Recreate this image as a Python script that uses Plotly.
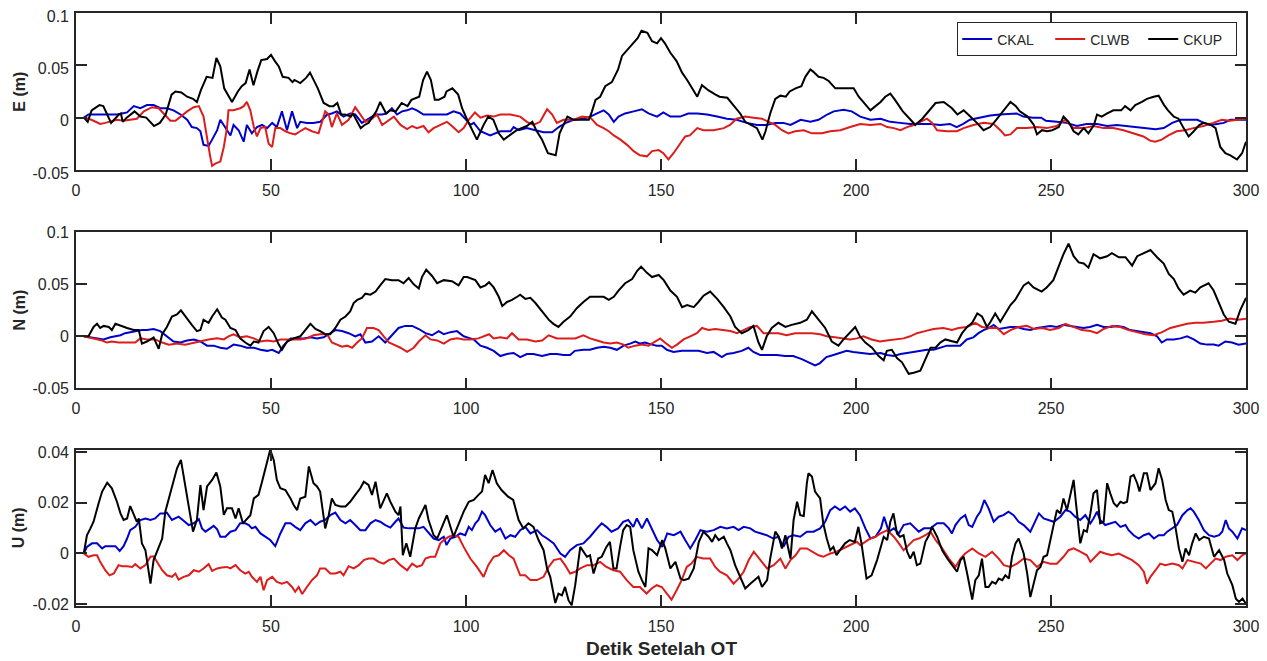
import plotly.graph_objects as go
from plotly.subplots import make_subplots

# ---------------- data (time in s, displacement in m) ----------------
E_CKAL = [(2,0),(3.2,0.003),(5.4,0.003),(8.8,0.003),(10.5,0.003),(11.8,0.004),(13.1,0.005),(14.8,0.011),(16.5,0.009),(18.2,0.012),(19.9,0.012),(21.6,0.009),(23.3,0.009),(25,0.007),(26.8,0.003),(28.5,-0.002),(29.7,-0.009),(31,-0.010),(31.9,-0.013),(32.7,-0.026),(34,-0.027),(34.9,-0.021),(36.2,-0.012),(37,-0.002),(38.3,-0.009),(39.6,-0.017),(40.4,-0.007),(41.7,-0.012),(43,-0.023),(43.8,-0.007),(45.1,-0.015),(46.4,-0.009),(47.7,-0.007),(49,-0.010),(50.3,-0.005),(51.5,-0.009),(52.8,0.006),(54.1,-0.012),(55.4,0.006),(56.7,-0.010),(57.5,-0.004),(59.2,-0.005),(60.9,-0.005),(62.6,-0.004),(64.4,0.003),(65.6,0.004),(66.9,0.006),(68.6,0.001),(70.3,0.004),(71.6,0.003),(73.3,-0.005),(75,-0.001),(76.8,0.003),(78.5,0.003),(79.7,0.004),(81,0.009),(82.3,0.003),(83.6,0.006),(84.9,0.007),(86.2,0.009),(87.4,0.007),(89.1,0.003),(90.9,0.003),(92.6,0.003),(95.1,0.003),(96.8,0.006),(98.5,0.004),(99.8,-0.001),(101.1,-0.007),(102,-0.005),(103.7,-0.013),(106.2,-0.017),(108.8,-0.013),(111.4,-0.013),(112.2,-0.009),(113.5,-0.012),(115.6,-0.010),(117.8,-0.012),(119.9,-0.014),(122.1,-0.014),(123.8,-0.009),(125.6,-0.005),(127.6,-0.002),(129.8,-0.001),(131.9,0.001),(133.6,0.004),(135.3,0.007),(136.6,0.003),(137.9,-0.004),(139.1,0.001),(140.8,0.004),(143,0.006),(145.1,0.008),(146.8,0.004),(149,0.001),(150.6,0.005),(152.4,0.001),(154.9,0.001),(157,0.004),(159.3,0.004),(161.8,0.003),(164.4,0.001),(166.9,-0.001),(169.4,-0.002),(172,-0.005),(174.6,-0.007),(177.1,-0.007),(179.3,-0.005),(181.4,-0.005),(183.2,-0.007),(185.8,-0.002),(188.3,-0.004),(190.4,-0.002),(192.6,0.003),(194.3,0.006),(196.8,0.0075),(198.9,0.006),(201.1,0.001),(203.7,-0.002),(206.3,-0.001),(208.8,-0.004),(211.3,-0.005),(213.9,-0.006),(216.5,-0.006),(219,-0.006),(221.6,-0.007),(224.1,-0.006),(225.8,-0.009),(227.5,-0.006),(229.2,-0.002),(231.7,0),(234.4,0.002),(236.9,0.003),(239.6,0.004),(241.2,0.004),(242.9,0.001),(245.4,0),(247.5,0),(248.7,-0.003),(251.5,-0.004),(254,-0.005),(256.6,-0.008),(259.1,-0.006),(261.8,-0.006),(264.4,-0.008),(266.9,-0.007),(269.5,-0.008),(272.1,-0.009),(274.6,-0.010),(276.8,-0.011),(278.9,-0.010),(281.1,-0.005),(283.2,-0.002),(285.3,-0.002),(287.5,-0.002),(289.2,-0.005),(290.9,-0.007),(292.6,-0.006),(294.3,-0.005),(296,-0.002),(297.7,-0.002),(300,-0.002)]

E_CLWB = [(2,0),(3.2,-0.001),(4.5,-0.003),(6.2,-0.006),(7.5,-0.005),(8.8,-0.004),(10.5,-0.002),(12.2,-0.003),(13.9,-0.002),(15.6,-0.001),(17.4,0.006),(19.5,0.010),(21.2,0.009),(22.5,0.004),(24.2,-0.003),(25.5,-0.003),(26.8,0.001),(28.5,0.006),(30.2,0.010),(31.5,0.011),(32.7,0.001),(33.6,-0.021),(34.4,-0.037),(34.9,-0.046),(35.7,-0.044),(37,-0.042),(37.9,-0.028),(38.7,-0.010),(39.1,0.007),(40.4,0.007),(42.1,0.009),(43,0.011),(43.8,0.015),(44.7,0.007),(45.6,-0.009),(46.4,-0.018),(47.3,-0.010),(48.5,-0.009),(49.4,-0.025),(50.3,-0.028),(51.1,-0.010),(52.4,-0.010),(53.7,-0.013),(55,-0.015),(56.2,-0.016),(57.5,-0.013),(58.8,-0.010),(60.5,-0.013),(62.2,-0.015),(63.9,0.006),(64.8,0.003),(65.6,-0.009),(66.9,0.004),(68.2,-0.007),(69.9,-0.002),(71.6,0.010),(72.9,0.003),(74.2,-0.004),(75.9,-0.001),(77.2,0.003),(78.5,-0.007),(80.2,-0.002),(81.5,0.001),(83.2,-0.007),(84.9,-0.011),(86.2,-0.008),(87.4,-0.010),(89.1,-0.008),(90.4,-0.014),(91.7,-0.010),(93.4,-0.007),(95.1,-0.004),(96.4,-0.008),(98.1,-0.014),(99.4,-0.010),(100.7,-0.002),(102.3,0.005),(103.7,0),(105.4,0.002),(107.1,0.001),(108.8,0.003),(111.4,0.003),(113.9,0.001),(115.6,-0.004),(117.3,-0.007),(119,-0.004),(120.8,0.008),(122.1,0.003),(123.3,-0.005),(125,-0.002),(127.6,-0.002),(129.8,0.001),(131.9,0),(133.6,-0.007),(135.3,-0.010),(136.6,-0.013),(137.9,-0.017),(139.6,-0.021),(141.3,-0.026),(143,-0.032),(144.6,-0.036),(146.4,-0.037),(147.7,-0.032),(149.4,-0.031),(150.6,-0.034),(151.9,-0.040),(153.2,-0.034),(154.9,-0.025),(156.2,-0.018),(157.4,-0.017),(159.3,-0.010),(160.9,-0.012),(163.5,-0.012),(166.1,-0.010),(167.7,-0.007),(169.4,-0.001),(171.6,0.001),(173.7,0),(175.9,-0.001),(177.6,-0.004),(179.3,-0.007),(181,-0.012),(182.7,-0.015),(184.4,-0.013),(186.6,-0.012),(188.7,-0.015),(191.3,-0.015),(193.4,-0.013),(196,-0.012),(198.5,-0.009),(201.1,-0.006),(203.7,-0.007),(206.3,-0.006),(208,-0.009),(209.7,-0.010),(211.4,-0.012),(213.1,-0.009),(214.8,-0.007),(216.5,-0.004),(218.2,-0.001),(219.5,-0.005),(220.8,-0.012),(223.3,-0.013),(225.9,-0.013),(227.6,-0.010),(230.1,-0.007),(232.7,-0.005),(235.3,-0.006),(237,-0.012),(238.2,-0.017),(239.6,-0.016),(241.3,-0.010),(243.8,-0.010),(246.4,-0.009),(248.9,-0.010),(251.5,-0.008),(253.6,-0.002),(255.8,-0.010),(258.3,-0.010),(260.9,-0.008),(263.5,-0.010),(266,-0.010),(268.6,-0.012),(271.2,-0.015),(273.7,-0.018),(275.4,-0.022),(276.7,-0.023),(278.4,-0.021),(280.1,-0.017),(282.2,-0.013),(284.4,-0.012),(286.5,-0.010),(289.1,-0.008),(291.6,-0.005),(293.8,-0.002),(295.9,-0.003),(298,-0.002),(300,-0.001)]

E_CKUP = [(2,0),(3,-0.004),(4,0.007),(6,0.012),(7,0.011),(9,-0.005),(11,0.003),(11.5,0.004),(12,-0.004),(13,0),(15,0.006),(16.5,0.001),(18,0),(20,-0.008),(21.5,-0.005),(23,0.003),(24.5,0.022),(25.5,0.025),(27,0.024),(28.5,0.020),(30,0.018),(31,0.015),(32,0.026),(33.5,0.039),(35,0.038),(36,0.057),(37,0.049),(38,0.028),(40,0.015),(41,0.022),(41.5,0.025),(42.5,0.030),(43.5,0.033),(44.5,0.046),(45.5,0.031),(46.5,0.044),(47.5,0.055),(49,0.056),(50,0.060),(51,0.054),(52,0.049),(53,0.039),(54.5,0.038),(55.5,0.034),(56,0.036),(57.5,0.033),(59,0.038),(60,0.043),(62,0.028),(63.5,0.014),(65,0.011),(66,0.011),(67,0.014),(68,0.003),(69,0.003),(70.5,0.001),(71,0.004),(73,-0.010),(74,-0.007),(75,-0.005),(77,0.006),(78,0.015),(79.5,0.004),(80.5,0.007),(82,0.006),(83.5,0.014),(85,0.011),(86,0.017),(88,0.020),(89,0.036),(90,0.044),(91,0.036),(92,0.017),(93,0.017),(94.5,0.020),(95,0.025),(96.5,0.028),(98,0.022),(99,0.009),(100.3,-0.002),(102.8,-0.021),(104.5,-0.007),(105.7,0.001),(107,-0.002),(108.4,-0.015),(109.7,-0.021),(111.4,-0.016),(113,-0.012),(115.6,-0.008),(117,-0.004),(118,-0.012),(119.5,-0.021),(121,-0.034),(123,-0.036),(124,-0.015),(126,0.001),(127.5,-0.002),(129,-0.002),(131.5,-0.002),(132.3,0.006),(133.2,0.017),(134.4,0.020),(135.7,0.030),(137.4,0.034),(139,0.046),(140,0.059),(141.3,0.065),(142.6,0.070),(144,0.076),(145,0.083),(146.5,0.081),(147.7,0.073),(149,0.071),(150,0.076),(151,0.071),(152.4,0.062),(154,0.054),(155.4,0.043),(156.7,0.036),(158,0.028),(159.3,0.020),(160.5,0.031),(162.2,0.026),(164,0.022),(165,0.020),(167,0.019),(168.6,0.012),(170.3,0.004),(171.6,-0.004),(173.3,-0.007),(174.6,-0.010),(176,-0.021),(176.8,-0.013),(178,0.004),(179.3,0.018),(180.6,0.021),(182,0.020),(183,0.025),(184.5,0.028),(186,0.030),(187,0.039),(188.3,0.046),(189,0.044),(190.4,0.039),(191.7,0.038),(193,0.035),(194.7,0.028),(196.4,0.028),(199.4,0.028),(200.7,0.020),(202.4,0.012),(203.7,0.007),(205,0.011),(206.3,0.015),(207.5,0.020),(208.8,0.023),(210,0.017),(212,0.006),(214,-0.002),(215.2,-0.007),(217,-0.001),(218.7,0.006),(220.4,0.014),(222.5,0.015),(224.6,0.009),(226,0.003),(227.6,0.007),(229.3,0.001),(231,-0.005),(232.7,-0.012),(234.4,-0.009),(236,-0.002),(238,0.007),(239.6,0.015),(241,0.011),(242,0.006),(244,0.001),(245.6,-0.007),(246.4,-0.016),(247.7,-0.012),(249,-0.013),(250.3,-0.012),(252,-0.009),(253.2,0.001),(254.5,-0.004),(255.8,-0.013),(257,-0.016),(258.4,-0.010),(259.6,-0.015),(261,-0.007),(261.8,0.003),(263,0.001),(264.4,0.004),(266,0.007),(268,0.007),(269,0.011),(270.4,0.007),(271.6,0.012),(273.3,0.015),(274.6,0.018),(276.3,0.020),(277.6,0.021),(279,0.012),(280,0.007),(281.5,0.001),(282.7,-0.001),(284,-0.010),(285.3,-0.018),(286.6,-0.013),(288,-0.007),(289.2,-0.005),(291,-0.007),(292.2,-0.010),(293.4,-0.028),(294.7,-0.034),(296,-0.036),(297.7,-0.040),(299,-0.034),(300,-0.023)]

N_CKAL = [(2,0),(3.7,-0.001),(5.4,-0.002),(7.1,-0.003),(8.8,-0.001),(10.1,0),(11.4,0.001),(12.6,0.003),(13.9,0.004),(15.2,0.005),(16.9,0.006),(18.2,0.006),(19.9,0.007),(21.6,0.005),(23.3,0),(25,-0.005),(26.8,-0.006),(28.5,-0.004),(30.2,-0.003),(31.9,-0.005),(33.6,-0.009),(35.3,-0.009),(37,-0.011),(38.7,-0.012),(40.4,-0.008),(42.1,-0.009),(43.8,-0.011),(45.6,-0.011),(47.3,-0.013),(49,-0.014),(50.3,-0.013),(52,-0.016),(53.2,-0.009),(55,-0.002),(56.7,-0.002),(58.4,-0.002),(60.1,-0.001),(61.8,-0.002),(63.5,-0.001),(65.2,0.003),(66.5,0.006),(68.2,0.005),(69.9,0.003),(71.6,0),(72.9,0.002),(74.2,-0.006),(75.9,-0.005),(77.6,0),(79.3,-0.006),(81,0.001),(82.7,0.008),(84.4,0.010),(86.2,0.010),(87.9,0.007),(89.6,0.003),(91.3,0.001),(93,0.005),(94.3,0.002),(96,0.004),(97.7,0.005),(99.4,0),(101.1,-0.002),(102,-0.003),(103.7,-0.009),(105.4,-0.011),(107.1,-0.014),(108.8,-0.019),(110.5,-0.017),(112.2,-0.016),(113.9,-0.020),(115.6,-0.017),(117.3,-0.017),(119.5,-0.019),(121.6,-0.017),(123.3,-0.017),(125,-0.018),(126.7,-0.018),(127.9,-0.014),(130.1,-0.013),(131.8,-0.013),(133.6,-0.011),(135.3,-0.010),(137,-0.011),(138.7,-0.013),(140.4,-0.009),(142.1,-0.007),(143.4,-0.005),(144.7,-0.007),(145.9,-0.006),(147.7,-0.008),(148.9,-0.009),(150.2,-0.009),(151.5,-0.013),(153.2,-0.015),(155.4,-0.014),(157.5,-0.014),(159.6,-0.014),(161.8,-0.016),(163.5,-0.015),(165.6,-0.020),(166.9,-0.017),(168.6,-0.016),(170.7,-0.014),(172.4,-0.011),(173.7,-0.015),(175.4,-0.018),(177.6,-0.018),(179.7,-0.018),(181.8,-0.019),(183.9,-0.019),(186.1,-0.022),(187.8,-0.025),(189.5,-0.028),(190.7,-0.026),(192.4,-0.020),(194.2,-0.018),(195.9,-0.016),(197.6,-0.014),(199.3,-0.015),(201,-0.016),(203.6,-0.017),(206.3,-0.016),(208,-0.018),(209.7,-0.019),(211.4,-0.017),(213.1,-0.016),(214.8,-0.015),(216.5,-0.014),(218.2,-0.013),(219.9,-0.013),(221.6,-0.011),(223.3,-0.009),(225,-0.009),(226.7,-0.009),(228.4,-0.003),(230.1,-0.001),(231.4,0.003),(232.7,0.006),(234,0.008),(235.3,0.011),(236.6,0.007),(237.8,0.008),(239.6,0.009),(241.3,0.009),(243,0.007),(244.7,0.006),(246.4,0.008),(248.1,0.009),(249.8,0.010),(251.5,0.009),(253.2,0.011),(254.9,0.010),(256.6,0.009),(258.3,0.008),(260,0.009),(261.8,0.011),(263.5,0.009),(265.2,0.009),(266.9,0.010),(268.6,0.009),(270.3,0.006),(272,0.005),(273.8,0.004),(275.5,0.003),(277.2,0),(278.4,-0.006),(279.7,-0.003),(281.5,-0.003),(283.2,-0.002),(284.9,0),(286.6,-0.003),(288.3,-0.007),(290,-0.008),(291.7,-0.008),(293,-0.009),(294.7,-0.005),(296.4,-0.006),(298.1,-0.008),(300,-0.007)]

N_CLWB = [(2,0),(4.5,-0.002),(6.7,-0.004),(7.9,-0.006),(9.2,-0.005),(10.9,-0.006),(13.1,-0.006),(15.2,-0.006),(16.5,-0.002),(18.2,-0.003),(20.3,-0.003),(22.1,-0.006),(23.8,-0.008),(25.9,-0.007),(28,-0.008),(30.2,-0.006),(31.9,-0.005),(34,-0.003),(36.2,-0.002),(37.9,-0.003),(39.1,0),(40.4,0.002),(42.1,-0.001),(43.8,0),(45.6,-0.002),(47.3,-0.005),(49,-0.004),(50.7,-0.005),(52.4,-0.003),(54.1,-0.003),(55.8,-0.003),(57.5,-0.003),(59.2,-0.002),(60.9,0.001),(62.6,0.002),(64.4,0.002),(65.6,-0.006),(66.9,-0.008),(68.2,-0.010),(69.5,-0.009),(70.8,-0.011),(72.1,-0.006),(73.3,-0.002),(74.6,0.008),(76.3,0.008),(77.6,0.006),(78.9,0),(80.2,-0.006),(81.5,-0.008),(83.2,-0.011),(84.9,-0.015),(86.6,-0.011),(87.9,-0.005),(89.6,0.001),(90.9,-0.003),(92.6,-0.004),(94.3,-0.007),(96,-0.003),(97.7,-0.002),(99.4,-0.003),(101.1,-0.003),(103.2,-0.002),(105.9,0.002),(107.1,-0.002),(108.8,-0.001),(110.5,-0.002),(111.8,0.003),(113.5,-0.003),(115.6,-0.003),(117.8,-0.005),(119.5,-0.004),(121.2,0.001),(123.3,-0.002),(125.9,-0.002),(128,-0.002),(130.1,0.001),(131.8,-0.002),(133.6,-0.004),(135.3,-0.006),(137,-0.007),(138.7,-0.006),(140.4,-0.008),(141.6,-0.011),(143.4,-0.009),(145.1,-0.008),(146.8,-0.009),(148.5,-0.005),(149.8,-0.002),(151,-0.006),(152.8,-0.011),(154.1,-0.008),(155.8,-0.003),(157.5,0),(159.2,0.003),(160.5,0.008),(162.2,0.006),(163.9,0.007),(166.1,0.006),(167.8,0.005),(169.5,0.003),(171.2,0.006),(172.9,0.009),(174.6,0.010),(176.3,0.003),(178,0.003),(180.1,0.003),(182.2,0.001),(184.4,0.003),(186.5,0.003),(188.7,0.003),(190.8,0.002),(192.5,0),(194.6,-0.001),(196.8,-0.002),(198.5,-0.003),(200.2,-0.002),(201.9,0),(204,-0.003),(206.2,-0.005),(207.9,-0.004),(210.5,-0.003),(212.2,-0.002),(213.9,0),(215.6,0.003),(217.7,0.005),(219.9,0.007),(222.4,0.008),(224.6,0.006),(226.3,0.008),(228.4,0.009),(230.6,0.013),(232.3,0.009),(234.4,0.008),(236.2,0.008),(237.9,0.002),(239.6,0.006),(241.7,0.009),(243.8,0.010),(245.6,0.007),(247.7,0.008),(249.8,0.006),(252,0.008),(253.7,0.012),(255.8,0.009),(257.9,0.006),(260.1,0.005),(261.8,0.003),(263.5,0.007),(265.6,0.010),(267.8,0.009),(269.9,0.006),(272,0.004),(274.2,0.002),(276.3,0.001),(278.5,0.004),(280.6,0.008),(282.7,0.010),(284.9,0.012),(287,0.013),(289.1,0.013),(291.7,0.014),(293.8,0.015),(295.9,0.017),(298,0.016),(300,0.017)]

N_CKUP = [(2,0),(3.2,0),(4.5,0.009),(5.4,0.012),(6.2,0.008),(7.1,0.010),(8.4,0.009),(9.2,0.006),(10.1,0.012),(11.4,0.010),(13.1,0.008),(14.8,0.006),(16.1,0.006),(16.9,-0.007),(18.2,-0.005),(19.9,-0.001),(21.2,-0.012),(22.1,0.002),(23.3,0.009),(24.6,0.019),(25.9,0.021),(26.9,0.025),(28,0.019),(29.7,0.011),(31,0.005),(31.9,0.006),(32.7,0.016),(34,0.013),(34.9,0.019),(36.2,0.026),(37.4,0.018),(38.3,0.016),(39.6,0.008),(40.9,0.006),(42.1,-0.002),(43.4,-0.006),(44.7,-0.009),(45.6,-0.005),(46.8,-0.006),(48.1,0.005),(49.4,0.009),(50.7,0.003),(52,-0.008),(52.8,-0.013),(54.1,-0.005),(55.8,-0.002),(57.5,0),(59.2,0.008),(60.1,0.012),(61.4,0.007),(62.6,0.005),(63.9,0.002),(65.2,0.002),(66.5,0.008),(67.8,0.016),(69.1,0.019),(70.3,0.024),(71.2,0.032),(72.1,0.035),(73.3,0.037),(74.2,0.041),(75.5,0.040),(76.8,0.043),(78,0.049),(79.3,0.055),(81,0.054),(82.7,0.054),(84,0.051),(85.3,0.056),(86.6,0.050),(87.9,0.046),(88.7,0.057),(89.8,0.064),(91.3,0.058),(92.6,0.051),(94.3,0.054),(96.4,0.053),(98.1,0.049),(99.4,0.057),(100.3,0.057),(102.4,0.054),(103.7,0.047),(105,0.049),(105.9,0.052),(107.1,0.047),(108.4,0.038),(109.3,0.029),(110.5,0.033),(111.8,0.035),(113.1,0.038),(113.9,0.040),(115.2,0.036),(116.5,0.037),(117.8,0.032),(119.5,0.024),(121.2,0.016),(122.4,0.012),(123.7,0.009),(125,0.014),(126.7,0.019),(128.4,0.027),(130.1,0.033),(131.8,0.038),(133.6,0.038),(135.3,0.038),(136.6,0.035),(137.9,0.038),(139.1,0.044),(140.8,0.051),(142.6,0.055),(143.9,0.063),(144.9,0.067),(146.4,0.061),(147.7,0.057),(149.4,0.059),(150.7,0.054),(152.4,0.044),(154.1,0.038),(155.4,0.028),(156.7,0.030),(158.4,0.028),(159.6,0.033),(160.9,0.039),(162.6,0.043),(164.4,0.036),(166.1,0.028),(167.8,0.019),(169,0.009),(170.7,0.003),(172.4,0.006),(173.7,0.010),(175,-0.006),(175.9,-0.013),(177.1,0),(178.4,0.008),(180.1,0.013),(181.9,0.009),(183.5,0.011),(185.7,0.013),(187.4,0.016),(188.7,0.024),(190.4,0.016),(192.1,0.008),(193.8,-0.005),(195.5,-0.009),(196.8,-0.003),(198.1,0.002),(199.8,0.009),(201,0),(202.4,-0.006),(204.1,-0.011),(205.8,-0.019),(207.1,-0.023),(207.9,-0.014),(209.2,-0.013),(210.5,-0.021),(211.8,-0.025),(213.5,-0.036),(214.8,-0.035),(216.5,-0.033),(217.8,-0.022),(219.1,-0.011),(220.4,-0.011),(221.6,-0.006),(222.9,-0.003),(224.2,-0.004),(225.9,-0.006),(227.2,0.003),(228.5,0.009),(229.8,0.013),(231.1,0.022),(232.3,0.019),(233.6,0.009),(234.5,0.014),(235.7,0.022),(237,0.014),(238.3,0.022),(239.6,0.030),(240.8,0.035),(242.1,0.043),(243,0.049),(244.2,0.052),(245.5,0.047),(247.6,0.043),(248.9,0.047),(250.6,0.054),(251.9,0.066),(253.2,0.079),(254.5,0.089),(255.8,0.077),(257.1,0.071),(258.4,0.070),(259.6,0.066),(260.9,0.079),(262.6,0.075),(264.4,0.077),(265.6,0.080),(267.4,0.076),(269.1,0.076),(270.8,0.068),(272.1,0.077),(273.8,0.080),(275.5,0.083),(277.2,0.076),(278.9,0.070),(280.2,0.060),(281.5,0.055),(282.7,0.046),(284,0.040),(285.7,0.044),(287,0.042),(288.3,0.047),(290.4,0.051),(291.7,0.044),(293,0.032),(294.3,0.021),(295.6,0.014),(297.3,0.012),(298.5,0.025),(300,0.037)]

U_CKAL = [(2,0),(2.8,0.0026),(4.1,0.004),(5.4,0.004),(6.7,0.002),(7.5,0.0029),(8.8,0.0029),(10.1,0.0029),(11.2,0.001),(12.2,0.0029),(13.1,0.0059),(13.9,0.0092),(15.2,0.0105),(16.5,0.0132),(17.8,0.0138),(19.1,0.0132),(20.3,0.0138),(21.6,0.0158),(22.5,0.0158),(23.3,0.0161),(24.6,0.0132),(25.5,0.0138),(26.3,0.0145),(27.6,0.0129),(28.9,0.0112),(30.2,0.0119),(31.5,0.0135),(32.3,0.0099),(33.2,0.0086),(34.4,0.0099),(35.3,0.0109),(36.2,0.0095),(37,0.0066),(38.3,0.0066),(39.6,0.0086),(40.9,0.0092),(42.1,0.0119),(43.4,0.0119),(44.3,0.0112),(45.1,0.0099),(46,0.0105),(47.3,0.0079),(48.5,0.0066),(49.8,0.0053),(51.1,0.0029),(52.4,0.0079),(53.7,0.0119),(55,0.0119),(56.2,0.0105),(57.5,0.0092),(58.8,0.0119),(60.1,0.0132),(61.4,0.0112),(62.6,0.0125),(63.9,0.0132),(65.2,0.0151),(66.5,0.0161),(67.8,0.0132),(69.1,0.0119),(70.3,0.0132),(71.6,0.0112),(72.9,0.0092),(74.2,0.0092),(75.5,0.0119),(76.8,0.0132),(78,0.0125),(79.3,0.0112),(80.6,0.0102),(81.9,0.0125),(82.7,0.0138),(84,0.0102),(85.3,0.0099),(86.6,0.0099),(87.9,0.0099),(89.1,0.0105),(90.4,0.0082),(91.7,0.0059),(93,0.0053),(94.3,0.0066),(95,0.0033),(96,0.0059),(97.3,0.0066),(98.5,0.0079),(99.8,0.0072),(100.7,0.0105),(101.5,0.0092),(102.4,0.0119),(103.2,0.0132),(104.1,0.0165),(104.9,0.0151),(106.2,0.0112),(107.5,0.0086),(108.8,0.0099),(110.1,0.0059),(111.4,0.0072),(112.6,0.0066),(113.9,0.0092),(115.2,0.0105),(116.5,0.0079),(118.2,0.0092),(119.5,0.0072),(120.8,0.0059),(122.5,0.004),(124.2,0),(125.4,-0.0013),(126.7,0.0013),(128.4,0.0033),(130.1,0.004),(131.8,0.0066),(133.6,0.0099),(134.8,0.0119),(136,0.0105),(137.3,0.0086),(139,0.0099),(140.3,0.0125),(141.6,0.0132),(142.9,0.0105),(143.8,0.0138),(145.1,0.0099),(146.4,0.0138),(147.7,0.0092),(149,0.0053),(150.3,0.0026),(151.6,0.0079),(153.3,0.0072),(155,0.0086),(156.2,0.0053),(157.5,0.002),(158.8,0.0053),(160.1,0.0092),(161.8,0.0086),(163.5,0.0092),(165.2,0.0105),(166.9,0.0099),(168.6,0.0105),(169.9,0.0092),(171.2,0.0105),(172.9,0.0099),(174.1,0.0086),(175.4,0.0079),(177.1,0.0072),(178.8,0.0059),(180.1,0.0066),(181.4,0.0026),(182.7,0.0066),(184,0.0072),(185.7,0.0066),(187.4,0.0086),(189.1,0.0086),(190.8,0.0099),(192.1,0.0125),(193.4,0.0171),(194.6,0.0185),(195.9,0.0171),(197.2,0.0185),(198.5,0.0165),(199.7,0.0178),(201,0.0151),(202.4,0.0099),(203.7,0.0059),(205,0.0066),(206.4,0.0099),(207.2,0.0145),(208.4,0.0086),(209.7,0.0099),(211,0.0079),(212.2,0.0112),(213.9,0.0119),(215.2,0.0099),(216.1,0.0086),(217.4,0.0099),(219.1,0.0099),(220.8,0.0119),(222.5,0.0119),(223.8,0.0099),(224.6,0.0079),(225.5,0.0112),(226.8,0.0138),(228,0.0151),(228.9,0.0112),(229.8,0.0105),(231,0.0145),(231.9,0.0165),(232.9,0.0211),(234,0.0178),(235.3,0.0125),(236.6,0.0145),(237.8,0.0151),(239.1,0.0165),(240.4,0.0151),(241.7,0.0125),(243,0.0112),(244.7,0.0086),(246,0.0125),(246.9,0.0158),(248.1,0.0138),(249.4,0.0132),(250.7,0.0125),(252.4,0.0145),(253.7,0.0171),(254.9,0.0165),(256.2,0.0145),(257.5,0.0132),(258.8,0.0151),(260.1,0.0119),(260.9,0.0138),(261.8,0.0165),(262.6,0.0132),(263.9,0.0112),(265.2,0.0119),(266.5,0.0125),(267.8,0.0105),(269.1,0.0112),(269.9,0.0092),(271.2,0.0072),(272.5,0.0059),(273.8,0.0072),(275.1,0.0079),(276.4,0.0059),(277.6,0.0072),(278.9,0.0072),(279.8,0.0086),(281.1,0.0099),(282.3,0.0112),(283.7,0.0151),(285,0.0171),(285.8,0.0178),(286.6,0.0165),(287.9,0.0132),(289.2,0.0092),(290.5,0.0072),(291.8,0.0066),(293.1,0.0072),(293.9,0.0086),(294.8,0.0132),(295.6,0.0099),(296.5,0.0086),(297.8,0.0059),(299,0.0099),(300,0.0092)]

U_CLWB = [(2,0),(3.2,-0.0013),(4.5,-0.0007),(5.4,-0.0007),(6.2,-0.0033),(7.5,-0.0066),(8.6,-0.0086),(9.7,-0.0079),(10.9,-0.0046),(11.8,-0.005),(13.1,-0.005),(14.4,-0.0053),(15.2,-0.0042),(16.5,-0.0059),(17.8,-0.0046),(19.1,-0.0013),(19.9,-0.0011),(20.8,-0.0033),(22.1,-0.0066),(23.3,-0.0086),(24.6,-0.0092),(25.5,-0.0079),(26.3,-0.0103),(27.6,-0.0092),(28.9,-0.0086),(30.2,-0.0066),(31.5,-0.0072),(32.7,-0.0059),(34,-0.0042),(34.9,-0.0069),(36.2,-0.0059),(37.4,-0.0055),(38.7,-0.0053),(39.6,-0.0059),(40.9,-0.0046),(42.1,-0.0066),(43.4,-0.0079),(44.3,-0.0072),(45.1,-0.0092),(46.4,-0.0112),(47.3,-0.0092),(48.1,-0.0145),(49,-0.0105),(50.3,-0.0092),(51.5,-0.0112),(52.8,-0.0119),(54.1,-0.0112),(55.4,-0.0132),(56.2,-0.0151),(57.1,-0.0132),(58,-0.016),(59.2,-0.0132),(60.5,-0.0105),(61.8,-0.0086),(62.6,-0.0059),(63.9,-0.0059),(65.2,-0.0079),(66.5,-0.0079),(67.8,-0.0072),(68.6,-0.0086),(69.9,-0.005),(71.2,-0.0059),(72.5,-0.0046),(73.8,-0.0026),(75,-0.002),(76.3,-0.002),(77.6,-0.0033),(78.9,-0.004),(80.2,-0.0026),(81.5,-0.002),(83.2,-0.0046),(84.9,-0.0066),(86.2,-0.004),(87.4,-0.0053),(88.7,-0.0046),(89.6,-0.002),(90.9,-0.0013),(92.1,-0.0013),(93.4,0.004),(94.3,0.0053),(95.6,0.0066),(96.8,0.0072),(98.1,0.0066),(99.4,0.0026),(101.1,-0.002),(102.8,-0.0053),(104.5,-0.0092),(105.7,-0.0046),(107.1,-0.0013),(108.4,-0.0007),(109.7,0.0013),(111,-0.0007),(112.2,-0.002),(113.9,-0.0086),(115.2,-0.0086),(116.5,-0.0105),(118.2,-0.0105),(119.9,-0.0092),(121.2,-0.0053),(122.5,-0.0026),(124.2,-0.002),(125.4,-0.0046),(126.7,-0.0079),(128,-0.0072),(129.3,-0.0059),(131,-0.0046),(132.7,-0.0046),(134.4,-0.0033),(136,-0.0053),(137.8,-0.0066),(139.5,-0.0072),(141.2,-0.0105),(142.9,-0.0132),(144.6,-0.0132),(146.3,-0.0158),(147.6,-0.0138),(148.9,-0.0125),(150.2,-0.0132),(151.4,-0.0158),(152.7,-0.0182),(154,-0.0145),(155.3,-0.0105),(156.6,-0.0053),(157.8,-0.004),(159.1,-0.0013),(160.8,-0.002),(162.6,-0.002),(163.9,-0.0053),(165.1,-0.0072),(166.9,-0.0086),(168.6,-0.0119),(169.9,-0.0099),(171.2,-0.0072),(172.5,-0.0026),(173.8,0.0007),(175.5,-0.0026),(177.2,-0.0059),(178.9,-0.0046),(180.6,-0.002),(181.9,-0.0059),(183.2,-0.0026),(184.5,-0.0007),(185.7,0.002),(187.4,0.002),(188.7,0.0007),(190.4,-0.0007),(191.6,-0.0013),(193.4,0),(195,0.0007),(196.8,0.002),(198.5,0.0033),(200.2,0.0046),(201.1,0.0033),(202.4,0.0046),(203.7,0.0059),(205,0.0066),(206.3,0.0079),(208,0.0092),(209.7,0.0066),(211,0.004),(212.2,0.0013),(213.5,0.0033),(214.8,0.0053),(216.1,0.0059),(217.8,0.0072),(219.1,0.0086),(220.4,0.0053),(222.1,0.002),(223.8,-0.002),(225.5,-0.0053),(226.8,-0.002),(228,0),(229.8,0.002),(231.5,0),(233.2,-0.0013),(234.9,0.0007),(236.6,-0.002),(237.9,-0.0046),(239.6,-0.0053),(241.3,-0.004),(243,-0.002),(244.7,-0.0026),(246.4,-0.0053),(248.1,-0.0033),(249.8,-0.004),(251.5,-0.004),(253.2,-0.0013),(254.5,0.0013),(255.8,0.002),(257.5,0.0007),(259.2,-0.0007),(260.1,-0.0033),(261.4,-0.0013),(262.6,0.0007),(263.9,0),(265.6,-0.0007),(267.4,0),(269.1,-0.0013),(270.8,-0.0026),(272.5,-0.0046),(273.8,-0.0072),(274.6,-0.0119),(275.5,-0.0092),(276.8,-0.0066),(278,-0.004),(279.3,-0.0046),(281.1,-0.004),(282.8,-0.0046),(283.7,-0.0059),(285,-0.0026),(286.7,-0.0033),(288.4,-0.004),(289.7,-0.0059),(290.9,-0.004),(292.2,-0.002),(293.5,-0.0026),(294.8,-0.0013),(296.5,-0.0007),(297.8,-0.0026),(299,-0.0007),(300,0)]

U_CKUP = [(2,0),(2.8,0.0072),(3.7,0.0099),(4.5,0.0125),(5.8,0.0198),(6.7,0.0244),(8,0.0279),(9.2,0.0257),(10.5,0.0204),(11.4,0.0158),(12.2,0.0132),(13.1,0.0138),(13.9,0.0187),(14.8,0.0151),(15.6,0.0125),(16.1,0.0138),(16.9,0.004),(17.8,0.0013),(18.6,-0.0079),(19.1,-0.0119),(19.9,-0.0026),(21.2,0.002),(22.1,0.0059),(22.9,0.0165),(23.8,0.0217),(25,0.029),(25.9,0.0336),(26.9,0.0369),(27.6,0.0303),(28.5,0.0217),(29.3,0.0138),(30,0.0086),(31,0.0132),(31.9,0.027),(32.7,0.0171),(33.6,0.0264),(34.9,0.029),(36,0.0319),(37,0.0264),(37.9,0.0152),(38.7,0.0178),(40,0.0178),(40.9,0.0138),(41.7,0.0178),(42.8,0.0119),(43.8,0.0138),(44.7,0.0151),(45.6,0.0217),(46.8,0.0231),(47.7,0.0283),(48.5,0.0336),(49.8,0.0409),(50.7,0.0369),(51.5,0.029),(52.4,0.0257),(53.7,0.025),(55,0.0217),(55.8,0.0191),(56.7,0.0171),(57.5,0.0217),(58.8,0.0224),(59.7,0.0343),(60.9,0.0277),(61.8,0.0264),(62.6,0.0244),(63.5,0.0132),(63.9,0.0099),(64.8,0.0151),(65.6,0.0217),(66.5,0.0191),(67.8,0.0185),(69.1,0.0185),(70.3,0.0204),(71.6,0.0231),(72.9,0.0257),(73.8,0.0283),(75,0.027),(75.9,0.0231),(76.8,0.0283),(78,0.0178),(78.9,0.0211),(79.7,0.0237),(80.6,0.0204),(81.9,0.0165),(82.7,0.0151),(83.2,0.0185),(83.8,-0.0007),(84.7,0.004),(85.7,-0.0013),(87,0.0099),(87.9,0.0138),(88.7,0.0165),(89.6,0.0191),(90.4,0.0132),(91.7,0.0072),(92.6,0.0059),(93.8,0.0105),(95.1,0.0151),(96.8,0.0066),(98.1,0.0119),(99.4,0.0165),(100.7,0.0204),(102,0.0211),(103.2,0.0231),(104.1,0.0244),(104.9,0.031),(105.8,0.0277),(106.8,0.0329),(107.9,0.0277),(109.1,0.025),(110.8,0.0224),(112.1,0.0211),(113.5,0.0132),(114.7,0.0099),(116,0.0119),(117.3,0.0105),(118.6,0.0053),(119.9,0.0013),(120.8,-0.006),(121.6,-0.0092),(122.5,-0.0158),(122.9,-0.0195),(123.7,-0.0158),(124.6,-0.0165),(125.4,-0.0132),(126.3,-0.0185),(127.1,-0.0204),(128,-0.0125),(129.3,0.0026),(130.1,0.0007),(131,-0.0013),(131.8,-0.0007),(132.7,-0.0079),(133.9,-0.002),(134.8,-0.0013),(136,0.0026),(136.9,0.0046),(137.8,-0.0059),(138.6,-0.0059),(139.5,0.0026),(140.3,0.0092),(141.2,0.0112),(142.1,0.0105),(142.9,0.0013),(144.2,-0.0072),(145.1,-0.0105),(146,-0.0132),(146.8,0.002),(147.7,0.0013),(149,-0.0007),(150.3,0.0053),(151.1,0.002),(152.4,-0.0059),(153.7,-0.0033),(155,-0.0099),(155.8,-0.0105),(157.1,-0.0099),(158.4,-0.0059),(159.7,0.0046),(160.9,0.0086),(162.2,0.0066),(163.1,0.0046),(163.9,0.0072),(164.8,0.0053),(166.1,0.0066),(166.9,0.004),(167.8,0.0013),(169,-0.0046),(170.3,-0.0092),(171.6,-0.0138),(172.9,-0.0119),(174.1,-0.0105),(175,-0.0092),(175.9,-0.0132),(177.2,-0.0105),(178,-0.002),(179.3,0.0086),(180.2,0.0066),(181,0.002),(181.9,0.0072),(183.2,-0.002),(184,0.0132),(184.9,0.0204),(185.7,0.0151),(186.6,0.0148),(187.4,0.0277),(187.8,0.0316),(188.7,0.0303),(189.5,0.0244),(190.8,0.0217),(191.6,0.0119),(192.5,0.0059),(193.4,0.0013),(194.2,0.0026),(195,-0.0007),(195.9,0.0013),(197.2,0.004),(198.4,0.0053),(199.7,0.0046),(200.6,0.0105),(201.4,0.004),(202.7,-0.0099),(204,-0.0086),(205.4,-0.0026),(206.3,0.0026),(207.1,0.0066),(208,0.0053),(208.8,0.0125),(209.6,0.0158),(210.5,0.0079),(211.3,0.0066),(212.2,0.0072),(213.1,0.0007),(213.9,-0.002),(214.8,0.0007),(215.6,-0.0046),(216.5,-0.004),(217.8,0.0046),(218.7,0.0072),(219.5,0.0105),(220.8,0.0066),(222.1,0.0013),(223.4,-0.002),(224.7,-0.0046),(225.9,-0.0072),(226.8,-0.0026),(227.6,-0.0013),(228.5,-0.0079),(229.8,-0.0182),(230.6,-0.0105),(231.5,-0.0086),(232.3,-0.002),(233.2,-0.0132),(234,-0.0132),(234.9,-0.0112),(235.8,-0.0119),(236.6,-0.0099),(237.5,-0.0105),(238.3,-0.0086),(239.2,-0.0099),(240,-0.0013),(240.9,0.004),(241.7,0.0059),(243,0),(243.9,-0.0079),(244.7,-0.0172),(245.6,-0.0119),(246.4,-0.0066),(247.3,-0.0053),(248.1,-0.0013),(249,-0.0007),(249.8,0.0053),(250.7,0.0112),(251.5,0.0171),(252.4,0.0158),(253.2,0.0217),(254.1,0.0171),(254.9,0.0231),(255.8,0.029),(256.5,0.0185),(257.5,0.004),(258.4,0.0092),(259.2,0.0086),(260.1,0.0158),(260.9,0.0237),(261.8,0.025),(262.6,0.0119),(263.5,0.0125),(264.4,0.0277),(265.2,0.0237),(266.1,0.0198),(266.9,0.0185),(267.8,0.0204),(268.6,0.0198),(269.5,0.0204),(270.4,0.0303),(271.2,0.031),(272.1,0.0277),(272.7,0.0244),(273.8,0.0316),(274.6,0.0316),(275.5,0.025),(276.8,0.0277),(277.6,0.0336),(278.5,0.029),(279.4,0.0211),(280.2,0.0171),(281.1,0.0165),(281.9,0.0105),(282.8,0.002),(283.7,-0.0033),(284.5,0.002),(285.4,-0.0007),(286.2,0.004),(287.1,0.0079),(288,0.0053),(289.2,0.0066),(290.5,0.0059),(291.8,-0.0013),(293.1,0.0013),(294.4,-0.0026),(295.2,-0.0079),(296.5,-0.0125),(297.4,-0.0178),(298.2,-0.0191),(299.1,-0.0178),(300,-0.0198)]

STATIONS = ["CKAL", "CLWB", "CKUP"]
COLORS = {"CKAL": "#0000CC", "CLWB": "#DD1C1C", "CKUP": "#000000"}
PANELS = [
    ("E (m)", {"CKAL": E_CKAL, "CLWB": E_CLWB, "CKUP": E_CKUP}),
    ("N (m)", {"CKAL": N_CKAL, "CLWB": N_CLWB, "CKUP": N_CKUP}),
    ("U (m)", {"CKAL": U_CKAL, "CLWB": U_CLWB, "CKUP": U_CKUP}),
]
X_TICKS = [0, 50, 100, 150, 200, 250, 300]
Y_TICKS = [
    ([-0.05, 0, 0.05, 0.1], ["-0.05", "0", "0.05", "0.1"]),
    ([-0.05, 0, 0.05, 0.1], ["-0.05", "0", "0.05", "0.1"]),
    ([-0.02, 0, 0.02, 0.04], ["-0.02", "0", "0.02", "0.04"]),
]
Y_RANGES = [[-0.05, 0.1], [-0.05, 0.1], [-0.0207, 0.0408]]
X_TITLE = "Detik Setelah OT"

# ---------------- figure ----------------
fig = make_subplots(rows=3, cols=1)
for r, (label, series) in enumerate(PANELS, start=1):
    for st in STATIONS:
        t, v = zip(*series[st])
        fig.add_trace(go.Scatter(
            x=list(t), y=list(v), mode="lines", name=st,
            line=dict(color=COLORS[st], width=2),
            showlegend=(r == 1), legendgroup=st,
        ), row=r, col=1)

FONT = "Liberation Sans, Arial, Helvetica, sans-serif"
AX = "#262626"
domains = [[0.7353, 1.0], [0.3671, 0.6302], [0.0, 0.2631]]
for i in range(3):
    sx = "xaxis" if i == 0 else f"xaxis{i+1}"
    sy = "yaxis" if i == 0 else f"yaxis{i+1}"
    fig.layout[sx].update(
        range=[0, 300], tickvals=X_TICKS, ticktext=[str(v) for v in X_TICKS],
        showline=True, linecolor=AX, linewidth=1.6, mirror="allticks",
        ticks="inside", ticklen=11, tickwidth=1.6, tickcolor=AX,
        showgrid=False, zeroline=False, ticklabelstandoff=5, automargin=False,
        ticklabeloverflow="allow",
        tickfont=dict(family=FONT, size=16, color=AX),
    )
    fig.layout[sy].update(
        range=Y_RANGES[i], domain=domains[i],
        tickvals=Y_TICKS[i][0], ticktext=Y_TICKS[i][1],
        showline=True, linecolor=AX, linewidth=1.6, mirror="allticks",
        ticks="inside", ticklen=11, tickwidth=1.6, tickcolor=AX,
        showgrid=False, zeroline=False, ticklabelstandoff=2, automargin=False,
        ticklabeloverflow="allow", ticklabelshift=(3 if i == 0 else 0),
        tickfont=dict(family=FONT, size=16, color=AX),
    )
    mid = sum(domains[i]) / 2
    fig.add_annotation(
        text=PANELS[i][0], xref="paper", yref="paper", x=-0.0485, y=mid,
        textangle=-90, showarrow=False, xanchor="center", yanchor="middle",
        font=dict(family=FONT, size=16, color=AX, weight="bold"),
    )

fig.add_annotation(
    text=X_TITLE, xref="paper", yref="paper", x=0.5, y=-0.0714,
    showarrow=False, xanchor="center", yanchor="middle",
    font=dict(family=FONT, size=19, color=AX, weight="bold"),
)

fig.update_layout(
    width=1259, height=653,
    margin=dict(l=68, r=21, t=5, b=55),
    plot_bgcolor="white", paper_bgcolor="white",
    legend=dict(
        orientation="h", x=0.9925, xanchor="right", y=0.984, yanchor="top",
        bordercolor=AX, borderwidth=1, bgcolor="white",
        font=dict(family=FONT, size=14, color=AX),
        itemwidth=30, tracegroupgap=0, entrywidth=48,
    ),
)

fig.write_html("out.html")
